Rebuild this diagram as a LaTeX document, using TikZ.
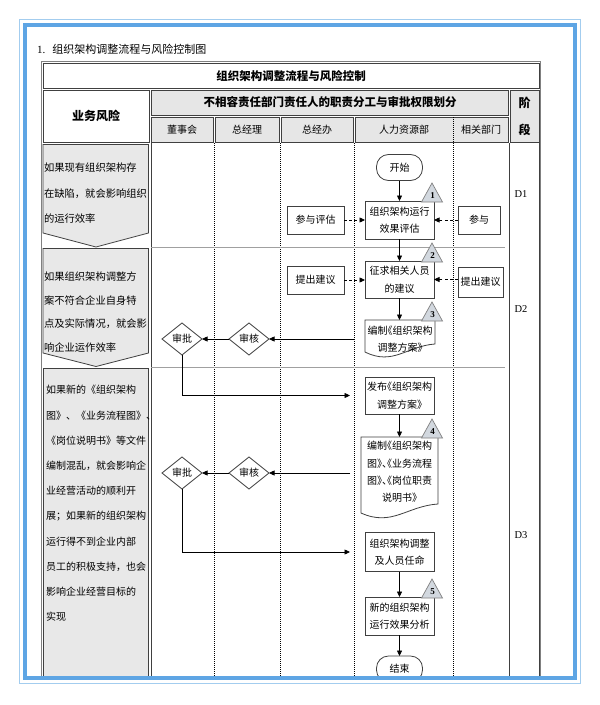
\documentclass[tikz,border=0pt]{standalone}
\usepackage{fontspec}
\setmainfont{Noto Sans CJK SC}
\newfontfamily\serifnum{Liberation Serif}
\newfontfamily\cjkh{Noto Sans CJK SC}[RawFeature=+halt]
\usetikzlibrary{arrows.meta,shapes.geometric}
\definecolor{framedark}{HTML}{5EA5E4}
\definecolor{framelight}{HTML}{A3CDEF}
\definecolor{cellgray}{HTML}{E6E6E6}
\definecolor{riskgray}{HTML}{E8E8E8}
\definecolor{linegray}{HTML}{404040}
\definecolor{sepgray}{HTML}{A0A0A0}
\definecolor{trifill}{HTML}{D2D8DF}
\definecolor{triline}{HTML}{808080}
\newcommand\riskmark[3]{%
  \filldraw[fill=trifill,draw=triline,line width=0.7bp] (#1-10.5,#2+1) -- (#1,#2-18) -- (#1+10.5,#2+1) -- cycle;
  \node[font=\serifnum\bfseries\fontsize{9bp}{10bp}\selectfont] (mark#3) at (#1+0.5,#2-5) {#3};}
\begin{document}
\begin{tikzpicture}[x=1bp,y=-1bp,
  every node/.style={inner sep=0pt,outer sep=0pt},
  txt/.style={font=\fontsize{10bp}{17.5bp}\selectfont, align=center},
  htxt/.style={font=\cjkh\fontsize{10bp}{17.3bp}\selectfont, align=center},
  box/.style={txt, draw=linegray, line width=0.8bp, fill=white, minimum width=69bp, minimum height=37bp},
  sidebox/.style={txt, draw=linegray, line width=0.8bp, fill=white, minimum height=28bp},
  term/.style={txt, draw=linegray, line width=0.8bp, fill=white, rounded corners=12bp, minimum width=46bp, minimum height=26bp},
  decision/.style={txt, diamond, draw=linegray, line width=0.8bp, fill=white, aspect=1.25, minimum width=40bp, minimum height=32bp},
  arr/.style={draw=black, line width=0.7bp, -{Triangle[length=5.5bp,width=5bp]}},
  darr/.style={arr, dash pattern=on 3bp off 2.2bp},
  lane/.style={draw=black, line width=0.9bp, dash pattern=on 0.9bp off 1.1bp},
  cellline/.style={draw=linegray, line width=0.9bp},
  hdr/.style={font=\bfseries\fontsize{11.5bp}{14bp}\selectfont},
  colhead/.style={font=\fontsize{10bp}{12bp}\selectfont},
  riskcell/.style={fill=riskgray, draw=linegray, line width=0.8bp},
  risktxt/.style={anchor=west, align=left},
  stagelbl/.style={font=\serifnum\fontsize{10.5bp}{12bp}\selectfont},
  docline/.style={draw=linegray, line width=0.8bp, fill=white}
]
\useasboundingbox (0,0) rectangle (600,705);
\fill[white] (0,0) rectangle (600,705);

\node[anchor=west, font=\fontsize{11bp}{13bp}\selectfont] (title) at (37,49) {{\serifnum 1.}\hspace{7bp}组织架构调整流程与风险控制图};

\begin{scope}
\clip (0,0) rectangle (600,677);
% table outer
\draw[draw=gray, line width=0.8bp] (41.5,690) -- (41.5,61.5) -- (540.5,61.5) -- (540.5,690);
% title row
\draw[cellline] (43,63) rectangle (539,88);
\node[hdr] (tabtitle) at (291,76) {组织架构调整流程与风险控制};
% risk header
\draw[cellline] (43,90) rectangle (149,142);
\node[font=\bfseries\fontsize{12bp}{14bp}\selectfont] (riskhead) at (96,116) {业务风险};
% duty header
\filldraw[fill=cellgray, cellline] (151,90) rectangle (508,115);
\node[hdr] (duty) at (330,102.5) {不相容责任部门责任人的职责分工与审批权限划分};
% stage header
\filldraw[fill=cellgray, cellline] (510,90) rectangle (539,142);
\node[font=\bfseries\fontsize{12bp}{14bp}\selectfont] (stagea) at (524.5,103) {阶};
\node[font=\bfseries\fontsize{12bp}{14bp}\selectfont] (stageb) at (524.5,130) {段};
% column headers
\filldraw[fill=cellgray, cellline] (151,117) rectangle (213,142);
\filldraw[fill=cellgray, cellline] (215,117) rectangle (279,142);
\filldraw[fill=cellgray, cellline] (281,117) rectangle (353,142);
\filldraw[fill=cellgray, cellline] (355,117) rectangle (508,142);
\node[colhead] (c1) at (182,130) {董事会};
\node[colhead] (c2) at (247,130) {总经理};
\node[colhead] (c3) at (317,130) {总经办};
\node[colhead] (c4) at (404,130) {人力资源部};
\node[colhead] (c5) at (481,130) {相关部门};

% body frame lines
\draw[cellline] (151,143) -- (151,690);
\draw[cellline] (509,143) -- (509,690);
\draw[cellline] (539.5,143) -- (539.5,690);

% risk cells
\filldraw[riskcell] (43,144.5) -- (148.5,144.5) -- (148.5,233) -- (96,247) -- (43,233) -- cycle;
\filldraw[riskcell] (43,248.5) -- (148.5,248.5) -- (148.5,353) -- (96,366.5) -- (43,353) -- cycle;
\filldraw[riskcell] (43,368.5) -- (148.5,368.5) -- (148.5,690) -- (43,690) -- cycle;
\node[risktxt, font=\fontsize{10.3bp}{25.5bp}\selectfont] (risk1) at (44,193.5) {如果现有组织架构存\\在缺陷，就会影响组织\\的运行效率};
\node[risktxt, font=\fontsize{10.3bp}{23.4bp}\selectfont] (risk2) at (44,312) {如果组织架构调整方\\案不符合企业自身特\\点及实际情况，就会影\\响企业运作效率};
\node[risktxt, font=\fontsize{10bp}{25.2bp}\selectfont] (risk3) at (46,503.5) {如果新的《组织架构\\图》、《业务流程图》、\\《岗位说明书》等文件\\编制混乱，就会影响企\\业经营活动的顺利开\\展；如果新的组织架构\\运行得不到企业内部\\员工的积极支持，也会\\影响企业经营目标的\\实现};

% lanes
\draw[lane] (214,143) -- (214,690);
\draw[lane] (280,143) -- (280,690);
\draw[lane] (354,143) -- (354,690);
\draw[lane] (453,117) -- (453,690);
% phase separators
\draw[sepgray, line width=0.8bp] (151,247.5) -- (505,247.5);
\draw[sepgray, line width=0.8bp] (151,367.5) -- (505,367.5);

% stage labels
\node[stagelbl] (ph1) at (521,194) {D1};
\node[stagelbl] (ph2) at (521,309) {D2};
\node[stagelbl] (ph3) at (521,535) {D3};

% flow
\node[term] (start) at (399.5,167.5) {开始};
\node[box, minimum height=38bp] (b1) at (399.5,220) {组织架构运行\\效果评估};
\node[sidebox, minimum width=57bp] (p1) at (315.5,220) {参与评估};
\node[sidebox, minimum width=42bp] (r1) at (479,220) {参与};
\node[box] (b2) at (399.5,279.5) {征求相关人员\\的建议};
\node[sidebox, minimum width=57bp] (p2) at (315.5,280) {提出建议};
\node[sidebox, minimum width=45bp, minimum height=30bp] (r2) at (480.5,282) {提出建议};

\draw[docline] (365,320) -- (435,320) -- (435,344) .. controls (407,346) and (393,366) .. (365,352) -- cycle;
\node[htxt] (d3) at (400,339) {编制《组织架构\\调整方案》};
\coordinate (d3top) at (399.5,320);
\coordinate (d3lane) at (355,339);

\node[decision] (a1) at (249,339) {审核};
\node[decision] (s1) at (182,339) {审批};

\node[box, font=\cjkh\fontsize{10bp}{17.5bp}\selectfont] (b3) at (399.5,395.5) {发布《组织架构\\调整方案》};

\draw[docline] (361,437) -- (438,437) -- (438,504) .. controls (407,506) and (392,527) .. (361,513) -- cycle;
\node[htxt] (d4) at (399.5,472) {编制《组织架构\\图》、《业务流程\\图》、《岗位职责\\说明书》};
\coordinate (d4top) at (399.5,437);
\coordinate (d4lane) at (350,473);

\node[decision] (a2) at (249,473) {审核};
\node[decision] (s2) at (182,473) {审批};

\node[box, minimum height=39bp] (b4) at (399.5,552) {组织架构调整\\及人员任命};
\node[box, minimum height=38bp] (b5) at (399.5,616) {新的组织架构\\运行效果分析};
\node[term] (finish) at (399.5,669) {结束};

% connectors
\draw[arr] (start) -- (b1);
\draw[arr] (b1) -- (b2);
\draw[arr] (b2) -- (d3top);
\draw[darr] (p1) -- (b1);
\draw[darr] (r1) -- (b1);
\draw[darr] (p2.east) -- (b2.west |- p2.east);
\draw[darr] (r2.west |- b2.east) -- (b2.east);
\draw[arr] (d3lane) -- (a1.east);
\draw[arr] (a1.west) -- (s1.east);
\draw[arr, shorten >=15bp] (s1.south) |- (b3.west);
\draw[arr] (b3) -- (d4top);
\draw[arr] (d4lane) -- (a2.east);
\draw[arr] (a2.west) -- (s2.east);
\draw[arr, shorten >=15bp] (s2.south) |- (b4.west);
\draw[arr] (b4) -- (b5);
\draw[arr] (b5) -- (finish);

% risk markers
\riskmark{432}{201}{1}
\riskmark{432}{261}{2}
\riskmark{432}{320}{3}
\riskmark{432}{437}{4}
\riskmark{432}{597}{5}
\end{scope}

% outer frame
\draw[framelight, line width=1.2bp] (19.5,19.5) rectangle (580.5,683.5);
\draw[framedark, line width=4bp] (25,25) rectangle (575,678);
\end{tikzpicture}
\end{document}
